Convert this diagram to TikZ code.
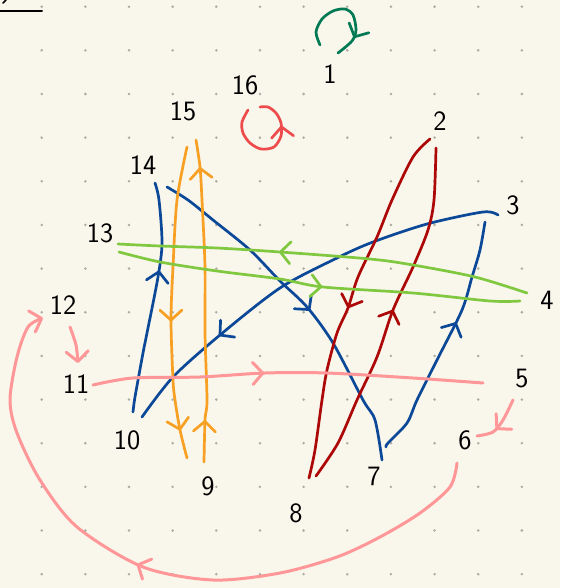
\documentclass[tikz,border=0pt]{standalone}
\usepackage{tikz}
\usetikzlibrary{arrows.meta,decorations.markings}
\definecolor{paper}{RGB}{249,246,235}
\definecolor{dotgray}{RGB}{172,172,166}
\definecolor{loopgreen}{RGB}{0,122,84}
\definecolor{loopred}{RGB}{238,76,76}
\definecolor{darkred}{RGB}{172,8,8}
\definecolor{penblue}{RGB}{12,72,152}
\definecolor{lime}{RGB}{128,200,64}
\definecolor{penorange}{RGB}{247,160,36}
\definecolor{penpink}{RGB}{255,150,152}

\begin{document}
\begin{tikzpicture}[x=1pt,y=-1pt,line cap=round,line join=round,
  lbl/.style={font=\sffamily\fontsize{28}{28}\selectfont,inner sep=0pt},
  pen/.style={line width=2.7pt},
  hand/.tip={Straight Barb[length=10pt,width=22pt,round]},
  marr/.style={postaction={decorate,decoration={markings,
    mark=at position #1 with {\arrow{hand}}}}}]
\useasboundingbox (0,0) rectangle (560,588);
\fill[paper] (0,0) rectangle (560,588);
\foreach \i in {0,...,11}
  \foreach \j in {0,...,13}
    \fill[dotgray] (41.7+43.65*\i,6.7+43.65*\j) circle (1.4);
\draw[line width=2pt] (0,11) -- (42,11);
\draw[line width=1.6pt] (3,3) -- (6,0);
% labels
\node[lbl] (n1) at (330,74) {1};
\node[lbl] (n2) at (440,121) {2};
\node[lbl] (n3) at (513,205) {3};
\node[lbl] (n4) at (547,300) {4};
\node[lbl] (n5) at (522,379) {5};
\node[lbl] (n6) at (465,440) {6};
\node[lbl] (n7) at (374,476) {7};
\node[lbl] (n8) at (296,513) {8};
\node[lbl] (n9) at (208,486) {9};
\node[lbl] (n10) at (127,440) {10};
\node[lbl] (n11) at (76,384) {11};
\node[lbl] (n12) at (63,305) {12};
\node[lbl] (n13) at (100,233) {13};
\node[lbl] (n14) at (143,165) {14};
\node[lbl] (n15) at (183,111) {15};
\node[lbl] (n16) at (245,85) {16};
% loose ends
\coordinate (g1a) at (320,45);   \coordinate (g1b) at (338,53);
\coordinate (r16a) at (248,110); \coordinate (r16b) at (260,107);
\coordinate (b14a) at (155,183); \coordinate (b14b) at (167,187);
\coordinate (b10a) at (133,412); \coordinate (b10b) at (142,417);
\coordinate (b3a) at (498,215);  \coordinate (b3b) at (485,222);
\coordinate (b7a) at (382,460);  \coordinate (b7b) at (386,447);
\coordinate (d2a) at (430,139);  \coordinate (d2b) at (436,148);
\coordinate (d8a) at (309,478);  \coordinate (d8b) at (316,476);
\coordinate (o15a) at (187,147); \coordinate (o15b) at (196,140);
\coordinate (o9a) at (187,458);  \coordinate (o9b) at (204,462);
\coordinate (l13a) at (118,244); \coordinate (l13b) at (119,252);
\coordinate (l4a) at (527,293);  \coordinate (l4b) at (520,301);
\coordinate (p11) at (93,385);   \coordinate (p5) at (483,383);
\coordinate (p12a) at (70,327);  \coordinate (p11b) at (78,363);
\coordinate (p5b) at (513,400);  \coordinate (p6) at (477,436);
\coordinate (p6b) at (457,463);  \coordinate (p12b) at (43,318);
% loops
\draw[pen,loopgreen,marr=0.8] plot[smooth] coordinates {(g1a) (316,32) (322,19) (333,11) (345,9) (353,15) (356,30) (352,41) (g1b)};
\draw[pen,loopred,marr=0.73] plot[smooth] coordinates {(r16a) (242,122) (243,133) (250,143) (261,149) (274,147) (281,136) (281,123) (276,113) (268,107) (r16b)};
% blue
\draw[pen,penblue,marr=0.53] plot[smooth,tension=0.5] coordinates {(b14b) (188,200) (213,220) (250,250) (280,281) (307,307) (333,343) (363,400) (375,420) (b7a)};
\draw[pen,penblue,marr=0.62] plot[smooth,tension=0.5] coordinates {(b10a) (135,397) (143,353) (147,333) (158,277) (162,243) (159,200) (b14a)};
\draw[pen,penblue,marr=0.735] plot[smooth,tension=0.5] coordinates {(b3a) (483,212) (427,224) (373,242) (337,258) (280,288) (220,335) (173,377) (b10b)};
\draw[pen,penblue,marr=0.58] plot[smooth,tension=0.5] coordinates {(b7b) (388,443) (407,423) (417,400) (437,360) (462,310) (472,277) (480,250) (b3b)};
% dark red
\draw[pen,darkred,marr=0.52] plot[smooth,tension=0.5] coordinates {(d2a) (413,157) (392,200) (377,237) (358,277) (348,308) (337,333) (327,370) (322,400) (315,450) (d8a)};
\draw[pen,darkred,marr=0.52] plot[smooth,tension=0.5] coordinates {(d8b) (338,443) (357,400) (377,357) (393,310) (413,267) (428,230) (434,200) (d2b)};
% orange
\draw[pen,penorange,marr=0.56,marr=0.91] plot[smooth,tension=0.5] coordinates {(o15a) (177,200) (173,267) (171,320) (173,380) (175,400) (180,430) (o9a)};
\draw[pen,penorange,marr=0.13,marr=0.915] plot[smooth,tension=0.5] coordinates {(o9b) (205,420) (207,400) (205,333) (205,267) (202,200) (200,167) (o15b)};
% lime
\draw[pen,lime,marr=0.61] plot[smooth,tension=0.5] coordinates {(l4a) (475,277) (413,265) (370,259) (280,252) (217,248) (160,246) (l13a)};
\draw[pen,lime,marr=0.51] plot[smooth,tension=0.5] coordinates {(l13b) (160,262) (217,271) (280,279) (323,287) (413,293) (490,301) (l4b)};
% pink
\draw[pen,line width=3pt,penpink,marr=0.44] plot[smooth,tension=0.5] coordinates {(p11) (133,378) (200,377) (265,373) (327,373) (413,378) (p5)};
\draw[pen,line width=3pt,penpink,-{hand}] plot[smooth] coordinates {(p12a) (76,345) (p11b)};
\draw[pen,line width=3pt,penpink,marr=0.63] plot[smooth] coordinates {(p5b) (503,420) (493,432) (p6)};
\draw[pen,line width=3pt,penpink,marr=0.54,-{hand}] plot[smooth] coordinates {(p6b) (450,487) (420,513) (380,537) (337,557) (280,573) (213,580) (143,567) (77,527) (40,480) (17,433) (10,400) (17,357) (28,327) (p12b)};
\end{tikzpicture}
\end{document}
